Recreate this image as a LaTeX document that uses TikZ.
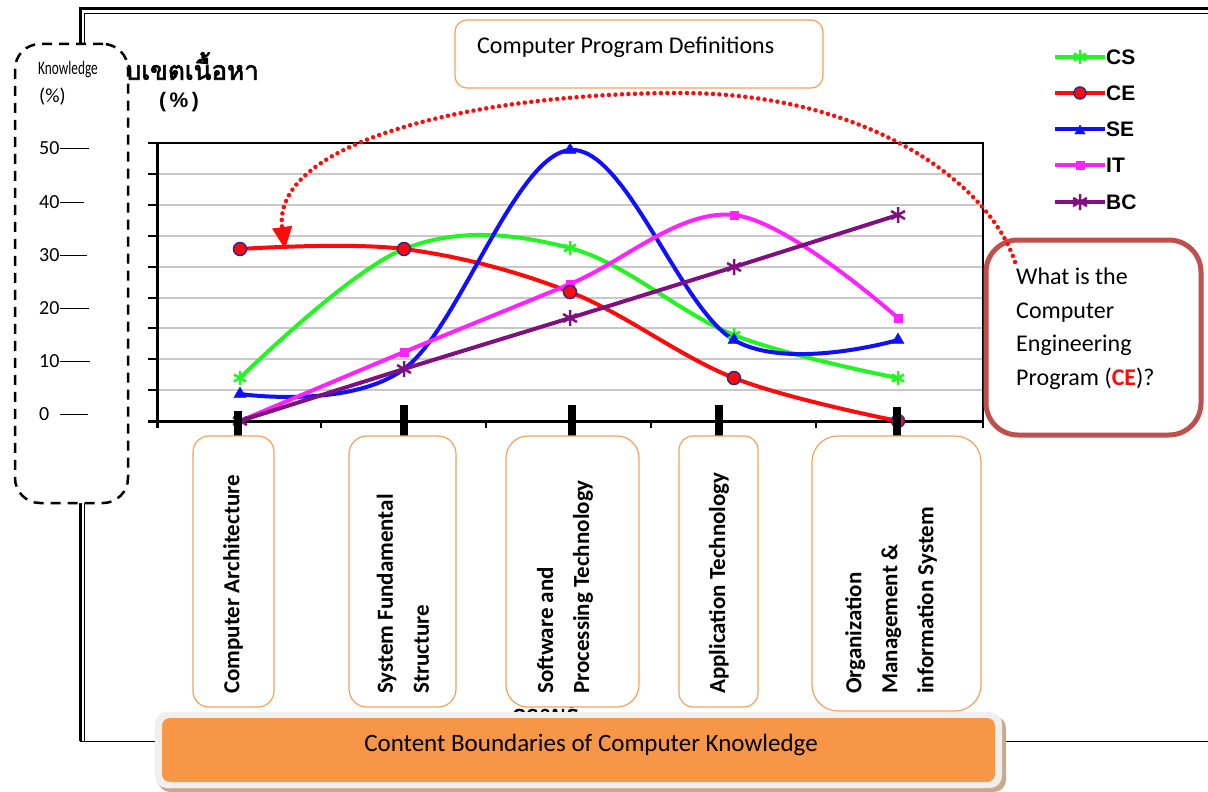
\documentclass[tikz,border=0pt]{standalone}
\usepackage{fontspec}
\setmainfont{Carlito}
\newfontfamily\thaifont[Script=Thai, AutoFakeBold=2.5]{Loma}
\newfontfamily\legfont{Liberation Sans}
\usetikzlibrary{arrows.meta,plotmarks}
\definecolor{csc}{HTML}{22F522}
\definecolor{cec}{HTML}{FF0A0A}
\definecolor{sec}{HTML}{1010FF}
\definecolor{itc}{HTML}{FF22FF}
\definecolor{bcc}{HTML}{80107F}
\definecolor{navyc}{HTML}{2A2A8A}
\definecolor{qborder}{HTML}{C0504D}
\definecolor{boxorange}{HTML}{F7A05C}
\definecolor{barorange}{HTML}{F79646}
\definecolor{barframe}{HTML}{EFEFEF}
\definecolor{barshadow}{HTML}{C9A98C}
\definecolor{gridc}{HTML}{C8C8C8}
\begin{document}
\begin{tikzpicture}[x=1pt,y=-1pt,
  catbox/.style={draw=boxorange, line width=1.2pt, fill=white, inner sep=0pt},
  cattext/.style={rotate=90, anchor=west, align=left, inner sep=0pt,
    font=\fontsize{23}{36}\selectfont\bfseries},
  serie/.style={line width=4pt, line join=round},
  legtext/.style={anchor=west, inner sep=0pt, font=\legfont\fontsize{21}{24}\selectfont\bfseries},
  ticklab/.style={anchor=west, inner sep=0pt, font=\fontsize{20}{22}\selectfont},
  dotarrow/.style={cec, line width=4.5pt, line cap=round, dash pattern=on 0pt off 6.5pt}
]
\useasboundingbox (0,0) rectangle (1208,792);
\fill[white] (0,0) rectangle (1208,792);

% outer frame
\draw[black, line width=1pt] (80,741) -- (1208,741);
\draw[black, line width=3pt] (1208,9) -- (80,9) -- (80,741);
\draw[black, line width=0.8pt] (1208,13.5) -- (84.5,13.5) -- (84.5,741);

% Thai titles (partly hidden in the reference)
\node[anchor=east, inner sep=0pt] (thtitle) at (259,66)
  {\thaifont\fontsize{26}{28}\selectfont\bfseries บเขตเนื้อหา};
\node[inner sep=0pt] (thpct) at (179,102)
  {\legfont\fontsize{21}{24}\selectfont\bfseries (\,\%\,)};
\node[inner sep=0pt] (thxlabel) at (545,715)
  {\thaifont\fontsize{22}{24}\selectfont\bfseries ความรู้};

% chart grid
\foreach \k in {1,...,8} {
  \draw[gridc, line width=2pt] (157,{143+30.9*\k}) -- (983,{143+30.9*\k});
}
\draw[black, line width=1.5pt] (157,143) -- (983,143) -- (983,428);
\foreach \k in {0,...,9} {
  \draw[black, line width=2pt] (148,{143+30.9*\k}) -- (157,{143+30.9*\k});
}
\foreach \xx in {157,321,486,651,816} {
  \draw[black, line width=2pt] (\xx,421) -- (\xx,428);
}
\draw[black, line width=3pt] (157,143) -- (157,428);
\draw[black, line width=3pt] (148,421) -- (983,421);

% series
\draw[csc, serie] plot[smooth, tension=0.6] coordinates {(240,378) (404,249) (570,248) (734,335) (898,378)};
\draw[cec, serie] plot[smooth, tension=0.6] coordinates {(240,249) (404,249) (570,292) (734,378) (898,421)};
\draw[sec, serie] plot[smooth, tension=0.6] coordinates {(240,394) (404,369) (570,150) (734,340) (898,340)};
\draw[itc, serie] plot[smooth, tension=0.6] coordinates {(240,421) (404,352) (570,284) (734,215) (898,318)};
\draw[bcc, serie] plot[smooth, tension=0.3] coordinates {(240,421) (404,369) (570,318) (734,267) (898,215)};
% markers
\path plot[only marks, mark=asterisk, mark size=7pt, mark options={csc, line width=2.5pt}] coordinates {(240,378) (570,248) (734,335) (898,378)};
\path plot[only marks, mark=triangle*, mark size=7pt, mark options={sec, fill=sec}] coordinates {(240,394) (570,150) (734,340) (898,340)};
\path plot[only marks, mark=square*, mark size=4pt, mark options={itc, fill=itc}] coordinates {(404,352) (570,284) (734,215) (898,318)};
\path plot[only marks, mark=asterisk, mark size=8pt, mark options={bcc, line width=2.5pt}] coordinates {(240,421) (404,369) (570,318) (734,267) (898,215)};
\path plot[only marks, mark=*, mark size=6.5pt, mark options={fill=cec, draw=navyc, line width=1.5pt}] coordinates {(240,249) (404,249) (570,292) (734,378) (898,421)};

% category tick bars
\foreach \xx/\yy in {238/411, 404/405, 572/405, 719/405, 897/407} {
  \draw[black, line width=8pt] (\xx,\yy) -- (\xx,436);
}

% category boxes
\node[catbox, rounded corners=16pt, minimum width=81pt, minimum height=271pt] (b1) at (233.5,571.5) {};
\node[catbox, rounded corners=18pt, minimum width=107pt, minimum height=271pt] (b2) at (402.5,571.5) {};
\node[catbox, rounded corners=22pt, minimum width=133pt, minimum height=271pt] (b3) at (572.5,571.5) {};
\node[catbox, rounded corners=14pt, minimum width=79pt, minimum height=271pt] (b4) at (718.5,571.5) {};
\node[catbox, rounded corners=26pt, minimum width=169pt, minimum height=275pt] (b5) at (896.5,573.5) {};
\node[cattext] (t1) at (233,694) {Computer Architecture};
\node[cattext] (t2) at (403,694) {System Fundamental\\Structure};
\node[cattext] (t3) at (565,694) {Software and\\Processing Technology};
\node[cattext] (t4) at (719,694) {Application Technology};
\node[cattext] (t5) at (891,694) {Organization\\Management \&\\information System};

% top definitions box
\node[draw=boxorange, line width=1.2pt, fill=white, rounded corners=12pt,
  minimum width=368pt, minimum height=68pt, inner sep=0pt] (defbox) at (639,54) {};
\node[anchor=west, inner sep=0pt, font=\fontsize{24}{28}\selectfont] (deftext) at (477,47) {Computer Program Definitions};

% dashed knowledge box
\node[draw=black, fill=white, line width=2.5pt, dash pattern=on 10pt off 7pt,
  rounded corners=25pt, minimum width=113pt, minimum height=459pt, inner sep=0pt] (kbox) at (71.5,273.5) {};
\node[anchor=west, inner sep=0pt] (kword) at (38,70)
  {\fontsize{19}{22}\selectfont\scalebox{0.7}[1]{Knowledge}};
\node[anchor=west, inner sep=0pt, font=\fontsize{20}{22}\selectfont] (kpct) at (39,97) {(\%)};
\node[ticklab] (y50) at (39,148) {50};
\node[ticklab] (y40) at (39,202) {40};
\node[ticklab] (y30) at (39,255) {30};
\node[ticklab] (y20) at (39,308) {20};
\node[ticklab] (y10) at (39,361) {10};
\node[ticklab] (y0) at (39,414) {0};
\draw[black, line width=0.9pt] (y50.east) -- ++(29,0);
\draw[black, line width=0.9pt] (y40.east) -- ++(24,0);
\draw[black, line width=0.9pt] (y30.east) -- ++(27,0);
\draw[black, line width=0.9pt] (y20.east) -- ++(29,0);
\draw[black, line width=0.9pt] (y10.east) -- ++(30,0);
\draw[black, line width=0.9pt] ([xshift=10pt]y0.east) -- ++(28,0);

% legend
\draw[csc, line width=4pt] (1055,57) -- (1105,57);
\draw[cec, line width=4pt] (1055,93) -- (1105,93);
\draw[sec, line width=4pt] (1055,129) -- (1105,129);
\draw[itc, line width=4pt] (1055,165) -- (1105,165);
\draw[bcc, line width=4pt] (1055,202) -- (1105,202);
\path plot[only marks, mark=asterisk, mark size=7pt, mark options={csc, line width=2.5pt}] coordinates {(1080,57)};
\path plot[only marks, mark=*, mark size=6pt, mark options={fill=cec, draw=navyc, line width=1.5pt}] coordinates {(1080,93)};
\path plot[only marks, mark=triangle*, mark size=6pt, mark options={sec, fill=sec}] coordinates {(1080,131)};
\path plot[only marks, mark=square*, mark size=4pt, mark options={itc, fill=itc}] coordinates {(1080,165)};
\path plot[only marks, mark=asterisk, mark size=8pt, mark options={bcc, line width=2.5pt}] coordinates {(1080,202)};
\node[legtext] (lcs) at (1106,57) {CS};
\node[legtext] (lce) at (1106,93) {CE};
\node[legtext] (lse) at (1106,129) {SE};
\node[legtext] (lit) at (1106,165) {IT};
\node[legtext] (lbc) at (1106,202) {BC};

% question box
\node[draw=qborder, line width=5pt, fill=white, rounded corners=32pt,
  minimum width=215pt, minimum height=195pt, inner sep=0pt] (q) at (1093.5,337.5) {};
\node[anchor=north west, align=left, inner sep=0pt, font=\fontsize{24}{33.5}\selectfont] (qtext) at (1016,268)
  {What is the\\Computer\\Engineering\\Program ({\color{cec}\bfseries CE})?};

% dotted arrow
\coordinate (arrS) at (1015,262);
\coordinate (arrM) at (680,93);
\coordinate (arrE) at (285,249);
\draw[dotarrow] (arrS) .. controls (990,185) and (870,93) .. (arrM)
  .. controls (480,93) and (273,140) .. ([yshift=22pt,xshift=-3pt]arrE);
\draw[cec, -{Triangle[length=22pt,width=20pt]}, line width=1pt] ([yshift=23pt,xshift=-3pt]arrE) -- (arrE);

% bottom bar
\fill[barshadow, rounded corners=12pt] (158,716) rectangle (1006,792);
\node[fill=barframe, rounded corners=12pt, minimum width=847pt, minimum height=76pt, inner sep=0pt] (barframe) at (578.5,750) {};
\node[fill=barorange, rounded corners=8pt, minimum width=833pt, minimum height=64pt, inner sep=0pt] (bar) at (578.5,750) {};
\node[inner sep=0pt, font=\fontsize{25}{28}\selectfont] (bartext) at (591,745) {Content Boundaries of Computer Knowledge};
\end{tikzpicture}
\end{document}
